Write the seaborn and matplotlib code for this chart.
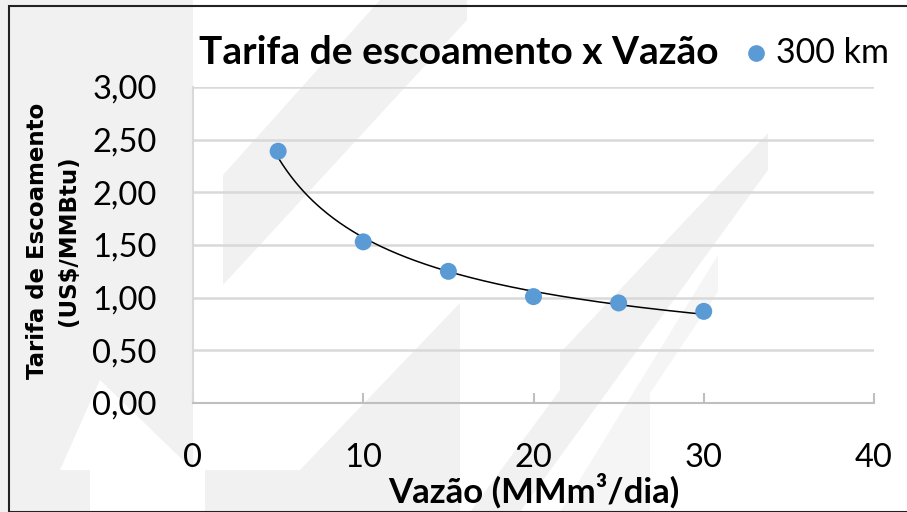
"""Tarifa de escoamento x Vazão scatter with power trendline."""

import matplotlib

matplotlib.use("Agg")
import matplotlib.pyplot as plt  # noqa: E402
import numpy as np  # noqa: E402
import pandas as pd  # noqa: E402
import seaborn as sns  # noqa: E402
from matplotlib.patches import Polygon, Rectangle  # noqa: E402

vazao = [5, 10, 15, 20, 25, 30]
tarifa = [2.39, 1.53, 1.25, 1.01, 0.95, 0.87]
serie = "300 km"
x_ticks = [0, 10, 20, 30, 40]
y_ticks = [0.0, 0.5, 1.0, 1.5, 2.0, 2.5, 3.0]

BLUE = "#5B9BD5"
GRID = "#D9D9D9"
WM = "#F1F1F1"

sns.set_theme(style="white")
plt.rcParams["font.family"] = ["Lato", "DejaVu Sans"]
plt.rcParams["text.color"] = "black"
plt.rcParams["axes.labelcolor"] = "black"

df = pd.DataFrame({"vazao": vazao, "tarifa": tarifa})

# power trendline (Excel style) fitted on log-log
b, log_a = np.polyfit(np.log(df["vazao"]), np.log(df["tarifa"]), 1)
xs = np.linspace(min(vazao), max(vazao), 200)
trend = pd.DataFrame({"vazao": xs, "tarifa": np.exp(log_a) * xs ** b})

fig = plt.figure(figsize=(9.07, 5.12), dpi=100, facecolor="white")

# faint watermark shapes (figure pixel coords, origin top-left)
W, H = 907.0, 512.0


def wm(points, color=WM):
    pts = [(x / W, 1 - y / H) for x, y in points]
    fig.patches.append(Polygon(pts, closed=True, transform=fig.transFigure,
                               facecolor=color, edgecolor="none", zorder=-5))


wm([(0, 0), (193, 0), (193, 512), (0, 512)])
wm([(100, 380), (193, 470), (205, 512), (90, 512), (90, 470), (60, 470)], "white")
wm([(380, 0), (467, 0), (467, 20), (223, 285), (223, 175)])
wm([(460, 303), (460, 512), (205, 512), (205, 470), (300, 470)])
wm([(768, 133), (768, 170), (520, 512), (470, 512), (560, 390), (560, 353)])
wm([(718, 255), (718, 292), (650, 393), (650, 512), (560, 512)], "#F5F5F5")
fig.patches.append(Rectangle((8.5 / W, 0), 1, 1 - 5.5 / H, transform=fig.transFigure,
                             facecolor="none", edgecolor="#222222", linewidth=1.5,
                             zorder=-4))

ax = fig.add_axes([193 / W, 1 - 403 / H, (874 - 193) / W, (403 - 87) / H])
ax.set_zorder(1)
ax.patch.set_alpha(0)

sns.lineplot(data=trend, x="vazao", y="tarifa", color="black", linewidth=1.1,
             ax=ax, zorder=3)
sns.scatterplot(data=df, x="vazao", y="tarifa", color=BLUE, s=150,
                edgecolor="none", ax=ax, zorder=4)

ax.set_xlim(0, 40)
ax.set_ylim(0, 3)
ax.set_xticks(x_ticks)
ax.set_yticks(y_ticks)
ax.set_yticklabels([f"{v:.2f}".replace(".", ",") for v in y_ticks])
ax.grid(axis="y", color=GRID, linewidth=1.8)
ax.set_axisbelow(True)
for side in ["top", "right"]:
    ax.spines[side].set_visible(False)
ax.spines["left"].set_color(GRID)
ax.spines["left"].set_linewidth(1.5)
ax.spines["bottom"].set_color("#BFBFBF")
ax.spines["bottom"].set_linewidth(1.5)
ax.tick_params(axis="x", direction="in", length=7, width=1.5, color="#BFBFBF",
               labelcolor="black", labelsize=23.5, pad=29, bottom=True)
ax.tick_params(axis="y", length=0, labelsize=23.5, pad=26, labelcolor="black")

ax.set_xlabel("Vazão (MMm³/dia)", fontsize=25, fontweight="bold", labelpad=0)
ax.set_ylabel("Tarifa de Escoamento\n(US$/MMBtu)", fontsize=16.5, fontweight="bold",
              family=["DejaVu Sans"], linespacing=1.45)
ax.yaxis.set_label_coords((53 - 193) / 681, (403 - 241) / 316)
ax.yaxis.label.set_va("center")

fig.text(459 / W, 1 - 53 / H, "Tarifa de escoamento x Vazão", fontsize=28,
         fontweight="bold", ha="center", va="center")
fig.lines.append(plt.Line2D([756 / W], [1 - 53 / H], marker="o", markersize=11,
                            color=BLUE, linestyle="none", transform=fig.transFigure))
fig.text(776 / W, 1 - 53 / H, serie, fontsize=24.5, ha="left", va="center")

fig.savefig("out.png", dpi=100, facecolor="white")
